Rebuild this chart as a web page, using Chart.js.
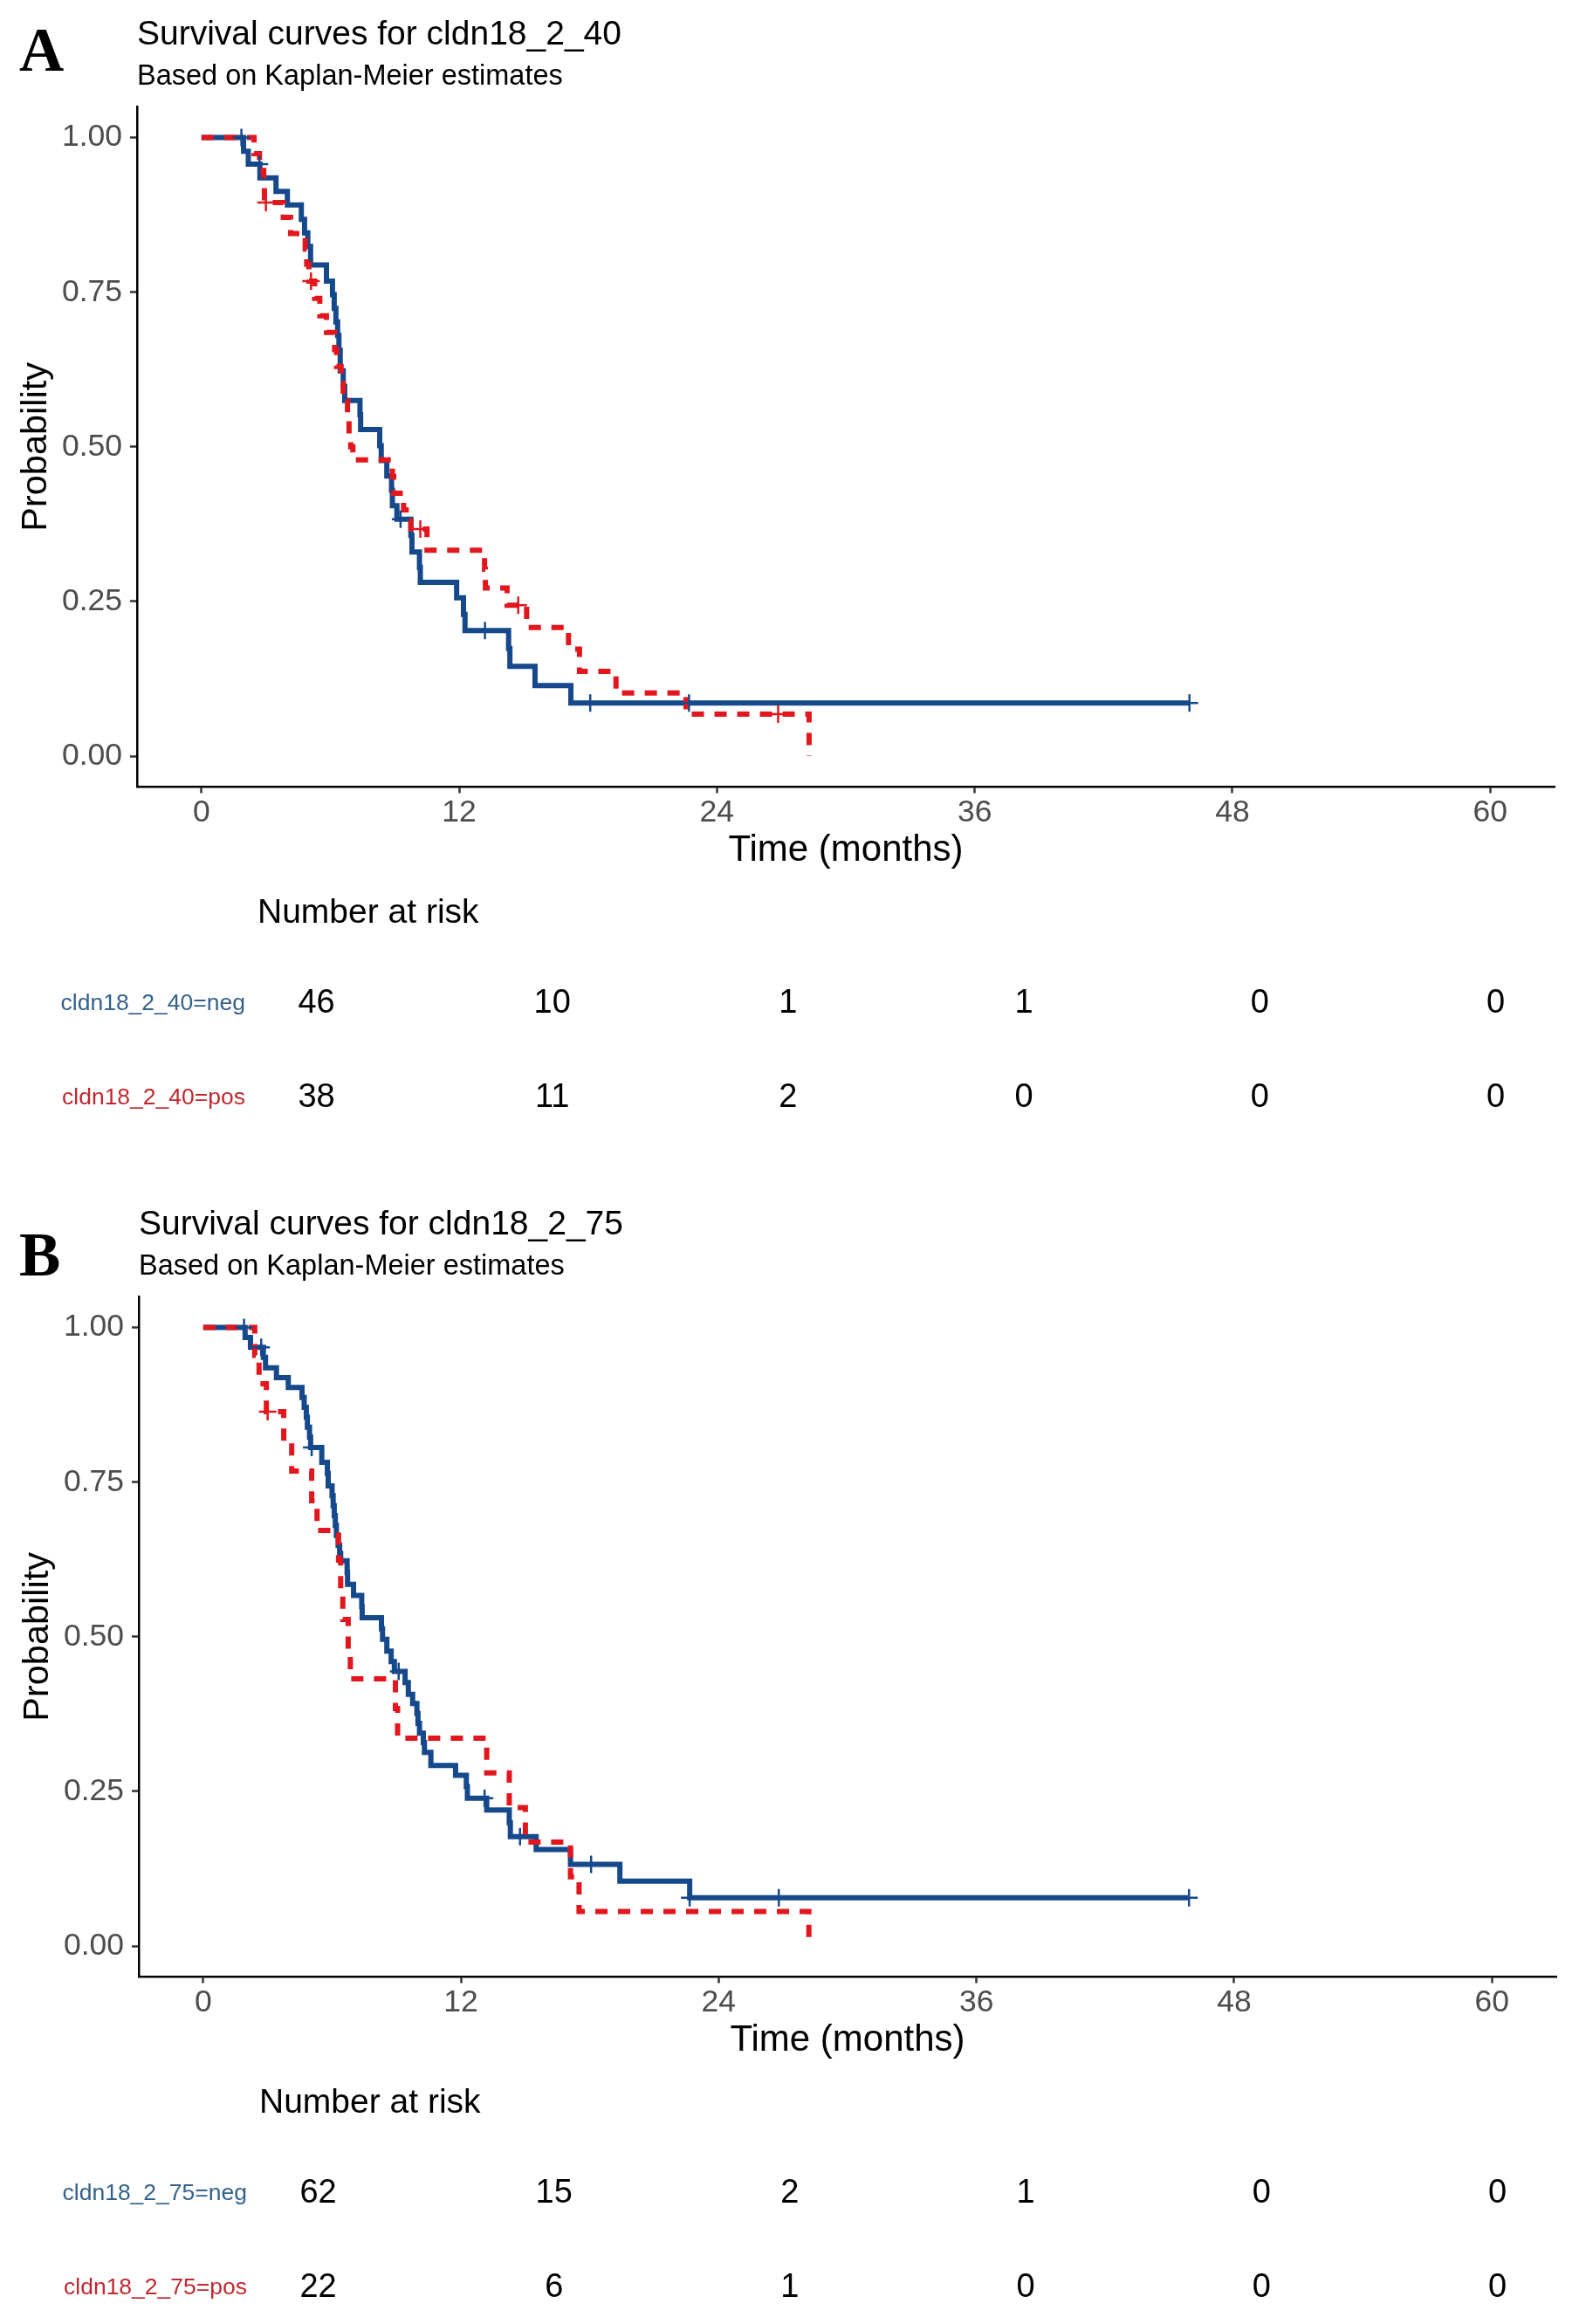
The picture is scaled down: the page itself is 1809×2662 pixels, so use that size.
<!DOCTYPE html>
<html>
<head>
<meta charset="utf-8">
<script src="https://cdn.jsdelivr.net/npm/chart.js@4.4.0/dist/chart.umd.min.js"></script>
<style>
html, body { margin:0; padding:0; background:#fff; width:1809px; height:2662px; overflow:hidden; }
.panel { position:absolute; width:1809px; height:1363px; }
canvas { position:absolute; left:0; }
.letter { position:absolute; font-family:"Liberation Serif","DejaVu Serif",serif; font-weight:bold; font-size:71px; line-height:1; color:#000; }
</style>
</head>
<body>
<div class="panel" id="panelA" style="left:0;top:0;">
  <div class="letter" style="left:22px;top:22px;">A</div>
  <canvas id="kmA" width="1809" height="1000" style="top:0;"></canvas>
  <canvas id="rtA" width="1809" height="312" style="top:1002px;"></canvas>
</div>
<div class="panel" id="panelB" style="left:2px;top:1363px;">
  <div class="letter" style="left:20px;top:39px;">B</div>
  <canvas id="kmB" width="1809" height="1000" style="top:0;"></canvas>
  <canvas id="rtB" width="1809" height="312" style="top:1002px;"></canvas>
</div>
<script>
// ---------- data ----------
const timeTicks = [0, 12, 24, 36, 48, 60];
const probTicks = [0, 0.25, 0.5, 0.75, 1];
const probLabels = ['0.00', '0.25', '0.50', '0.75', '1.00'];
const subtitleText = 'Based on Kaplan-Meier estimates';
const titleA = 'Survival curves for cldn18_2_40';
const titleB = 'Survival curves for cldn18_2_75';
const strataA = ['cldn18_2_40=neg', 'cldn18_2_40=pos'];
const strataB = ['cldn18_2_75=neg', 'cldn18_2_75=pos'];

// Panel A, negative group
const aNegTime = [0,1.96,2.18,2.72,3.47,4.0,4.65,4.8,4.95,5.08,5.82,6.1,6.18,6.26,6.34,6.4,6.46,6.6,6.67,7.38,7.41,8.3,8.37,8.63,8.85,8.89,9.1,9.75,9.8,10.15,10.19,11.88,12.2,12.27,14.3,14.36,15.53,17.2,46.0];
const aNegSurv = [1,0.978,0.957,0.935,0.913,0.891,0.868,0.846,0.824,0.794,0.768,0.746,0.724,0.702,0.68,0.656,0.623,0.598,0.575,0.552,0.528,0.502,0.478,0.453,0.43,0.405,0.383,0.357,0.33,0.305,0.281,0.256,0.229,0.203,0.174,0.145,0.114,0.086,0.086];
const aNegCensor = [1.86, 2.7, 9.27, 13.2, 18.1, 22.7, 46.0];
// Panel A, positive group
const aPosTime = [0,2.45,2.7,2.9,2.93,3.81,4.15,4.83,4.9,5.0,5.27,5.51,5.82,6.2,6.29,6.5,6.6,6.8,6.87,6.95,7.05,8.89,8.95,9.41,9.75,10.5,13.18,13.22,14.23,15.14,17.09,17.6,19.3,22.56,28.29];
const aPosSurv = [1,0.974,0.947,0.921,0.895,0.871,0.845,0.82,0.795,0.768,0.74,0.712,0.685,0.657,0.63,0.603,0.575,0.548,0.52,0.5,0.479,0.452,0.425,0.398,0.367,0.333,0.302,0.272,0.244,0.208,0.173,0.137,0.102,0.068,0];
const aPosCensor = [3.0, 5.1, 10.19, 14.75, 26.85];
// Panel B, negative group
const bNegTime = [0,1.95,2.2,2.8,2.9,3.41,3.96,4.6,4.7,4.8,4.85,4.95,5.0,5.52,5.78,5.82,6.0,6.05,6.1,6.15,6.2,6.28,6.35,6.4,6.7,6.72,7.0,7.38,7.4,8.3,8.35,8.55,8.75,8.9,9.4,9.55,9.75,9.95,10.0,10.07,10.25,10.3,10.6,11.75,12.25,12.3,13.2,14.25,14.3,15.5,17.1,19.4,22.65,45.9];
const bNegSurv = [1,0.984,0.968,0.952,0.935,0.919,0.903,0.887,0.871,0.855,0.839,0.823,0.806,0.782,0.764,0.744,0.728,0.712,0.696,0.68,0.664,0.648,0.635,0.623,0.604,0.585,0.567,0.549,0.531,0.513,0.496,0.477,0.46,0.444,0.426,0.407,0.392,0.376,0.36,0.344,0.329,0.313,0.292,0.276,0.258,0.239,0.22,0.199,0.177,0.156,0.132,0.105,0.078,0.078];
const bNegCensor = [1.9, 2.7, 5.05, 9.1, 13.1, 14.75, 18.06, 22.65, 26.8, 45.9];
// Panel B, positive group
const bPosTime = [0,2.4,2.6,2.94,3.75,4.12,5.05,5.3,6.3,6.4,6.5,6.75,6.85,8.95,9.05,13.2,14.25,15.0,17.1,17.5,28.2];
const bPosSurv = [1,0.955,0.909,0.864,0.816,0.768,0.72,0.672,0.624,0.576,0.528,0.48,0.432,0.384,0.336,0.28,0.224,0.168,0.112,0.056,0];
const bPosCensor = [3.0];

// Number at risk
const riskANeg = [46, 10, 1, 1, 0, 0];
const riskAPos = [38, 11, 2, 0, 0, 0];
const riskBNeg = [62, 15, 2, 1, 0, 0];
const riskBPos = [22, 6, 1, 0, 0, 0];

// ---------- styling ----------
const BLUE = '#16498C';
const RED = '#E2161D';
const LABEL_BLUE = '#33618C';
const LABEL_RED = '#C0282E';
const FONT = '"Liberation Sans", Arial, Helvetica, sans-serif';
Chart.defaults.font.family = FONT;

function survAt(times, surv, t) {
  let s = surv[0];
  for (let i = 0; i < times.length; i++) { if (times[i] <= t) s = surv[i]; }
  return s;
}
function pts(times, surv) { return times.map((t, i) => ({x: t, y: surv[i]})); }
function censorPts(cens, times, surv) { return cens.map(t => ({x: t, y: survAt(times, surv, t)})); }

function makeKM(id, title, negT, negS, negC, posT, posS, posC) {
  new Chart(document.getElementById(id), {
    type: 'line',
    data: {
      datasets: [
        {data: pts(negT, negS), borderColor: BLUE, borderWidth: 6, stepped: true, pointRadius: 0, fill: false, order: 4, borderJoinStyle: 'miter', borderCapStyle: 'butt'},
        {data: pts(posT, posS), borderColor: RED, borderWidth: 6, borderDash: [14, 12], stepped: true, pointRadius: 0, fill: false, order: 3, borderJoinStyle: 'miter', borderCapStyle: 'butt'},
        {data: censorPts(negC, negT, negS), showLine: false, pointStyle: 'cross', pointRadius: 10, pointBorderWidth: 2.5, borderColor: BLUE, pointBorderColor: BLUE, order: 2},
        {data: censorPts(posC, posT, posS), showLine: false, pointStyle: 'cross', pointRadius: 10, pointBorderWidth: 2.5, borderColor: RED, pointBorderColor: RED, order: 1}
      ]
    },
    options: {
      responsive: false, animation: false, devicePixelRatio: 1,
      events: [],
      layout: {padding: {left: 0, right: 28, top: 0, bottom: 0}},
      plugins: {
        legend: {display: false},
        tooltip: {enabled: false},
        title: {display: true, text: title, align: 'start', fullSize: false, color: '#000',
                font: {size: 39, weight: 'normal', lineHeight: 1.2}, padding: {top: 16.6, bottom: 0}},
        subtitle: {display: true, text: subtitleText, align: 'start', fullSize: false, color: '#000',
                   font: {size: 32.5, weight: 'normal', lineHeight: 1.2}, padding: {top: 5.2, bottom: 14.6}}
      },
      scales: {
        x: {
          type: 'linear', min: -3, max: 63,
          afterBuildTicks: ax => { ax.ticks = timeTicks.map(v => ({value: v})); },
          afterFit: ax => { ax.height = 98.5; },
          grid: {display: true, drawOnChartArea: false, drawTicks: true, tickLength: 7, tickColor: '#333', tickWidth: 2.5},
          border: {display: true, color: '#000', width: 2.5},
          ticks: {color: '#4D4D4D', font: {size: 35.5, lineHeight: 1}, padding: 5, maxRotation: 0, autoSkip: false,
                  callback: v => String(v)},
          title: {display: true, text: 'Time (months)', color: '#000', font: {size: 42, lineHeight: 1.2}, padding: {top: 0, bottom: 0.5}}
        },
        y: {
          type: 'linear', min: -0.05, max: 1.05,
          afterBuildTicks: ax => { ax.ticks = probTicks.map(v => ({value: v})); },
          afterFit: ax => { ax.width = 157; },
          grid: {display: true, drawOnChartArea: false, drawTicks: true, tickLength: 8, tickColor: '#333', tickWidth: 2.5},
          border: {display: true, color: '#000', width: 2.5},
          ticks: {color: '#4D4D4D', font: {size: 35.5, lineHeight: 1}, padding: 9, autoSkip: false,
                  callback: v => probLabels[probTicks.indexOf(v)]},
          title: {display: true, text: 'Probability', color: '#000', font: {size: 41.5, lineHeight: 1.2}, padding: {top: 17, bottom: 0}}
        }
      }
    }
  });
}

function makeRisk(id, strata, rows) {
  const labelColors = [LABEL_BLUE, LABEL_RED];
  const riskPlugin = {
    id: 'riskNumbers',
    afterDraw(chart) {
      const {ctx, scales: {x, y}} = chart;
      ctx.save();
      ctx.font = '38px ' + FONT;
      ctx.fillStyle = '#000';
      ctx.textAlign = 'center';
      ctx.textBaseline = 'middle';
      rows.forEach((row, i) => {
        row.forEach((n, j) => {
          ctx.fillText(String(n), x.getPixelForValue(timeTicks[j]), y.getPixelForValue(i + 1));
        });
      });
      ctx.restore();
    }
  };
  new Chart(document.getElementById(id), {
    type: 'line',
    data: {datasets: []},
    options: {
      responsive: false, animation: false, devicePixelRatio: 1,
      events: [],
      layout: {padding: {left: 0, right: 28, top: 0, bottom: 1.75}},
      plugins: {
        legend: {display: false},
        tooltip: {enabled: false},
        title: {display: true, text: 'Number at risk', align: 'start', fullSize: false, color: '#000',
                font: {size: 39, weight: 'normal', lineHeight: 1.2}, padding: {top: 20.6, bottom: 25.85}}
      },
      scales: {
        x: {type: 'linear', min: -3, max: 63, display: false},
        y: {
          type: 'linear', min: 0.5, max: 2.5, reverse: true,
          afterBuildTicks: ax => { ax.ticks = strata.map((s, i) => ({value: i + 1})); },
          afterFit: ax => { ax.width = 295; ax.paddingTop = 0; ax.paddingBottom = 0; },
          grid: {display: false, drawTicks: false},
          border: {display: false},
          ticks: {font: {size: 26.5, lineHeight: 1}, padding: 14, autoSkip: false,
                  color: c => labelColors[(c.tick ? c.tick.value : c.index + 1) - 1],
                  callback: v => strata[v - 1]}
        }
      }
    },
    plugins: [riskPlugin]
  });
}

makeKM('kmA', titleA, aNegTime, aNegSurv, aNegCensor, aPosTime, aPosSurv, aPosCensor);
makeRisk('rtA', strataA, [riskANeg, riskAPos]);
makeKM('kmB', titleB, bNegTime, bNegSurv, bNegCensor, bPosTime, bPosSurv, bPosCensor);
makeRisk('rtB', strataB, [riskBNeg, riskBPos]);
</script>
</body>
</html>
